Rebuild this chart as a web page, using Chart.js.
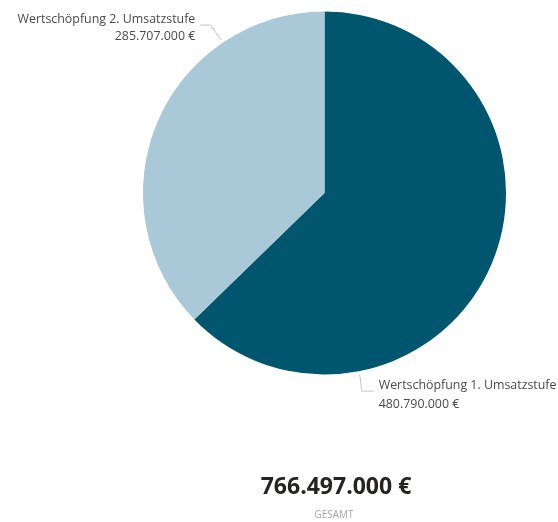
<!DOCTYPE html>
<html>
<head>
<meta charset="utf-8">
<script src="https://cdn.jsdelivr.net/npm/chart.js@4"></script>
<style>
  html, body { margin: 0; padding: 0; background: #fff; }
  #wrap { position: relative; width: 558px; height: 522px; }
  #total { position: absolute; left: 0; width: 672px; top: 469px; text-align: center; font-family: "Open Sans", sans-serif; font-weight: 700; font-size: 23px; color: #252423; }
  #totalLabel { position: absolute; left: 0; width: 668px; top: 507px; text-align: center; font-family: "Open Sans", sans-serif; font-size: 10px; color: #a6a6a6; }
</style>
</head>
<body>
<div id="wrap">
  <canvas id="chart" width="558" height="522"></canvas>
  <div id="total"></div>
  <div id="totalLabel">GESAMT</div>
</div>
<script>
const categories = ['Wertschöpfung 1. Umsatzstufe', 'Wertschöpfung 2. Umsatzstufe'];
const values = [480790000, 285707000];
const colors = ['#00566f', '#a9c8d8'];
const totalLabel = 'GESAMT';

function formatEuro(n) {
    return String(Math.round(n)).replace(/\B(?=(\d{3})+(?!\d))/g, '.') + ' €';
}

const total = values.reduce((a, b) => a + b, 0);
document.getElementById('total').textContent = formatEuro(total);
document.getElementById('totalLabel').textContent = totalLabel;

// Beschriftungen mit Führungslinien (Anker-Winkel in Grad, von oben im Uhrzeigersinn)
const labelLayout = [
    { angle: 169, side: 'right' },
    { angle: 326, side: 'left' }
];

const leaderLabels = {
    id: 'leaderLabels',
    afterDatasetsDraw(chart) {
        const ctx = chart.ctx;
        const meta = chart.getDatasetMeta(0);
        ctx.save();
        meta.data.forEach((arc, i) => {
            const lay = labelLayout[i];
            const a = (lay.angle - 90) * Math.PI / 180;
            const r = arc.outerRadius;
            const x0 = arc.x + Math.cos(a) * (r + 3);
            const y0 = arc.y + Math.sin(a) * (r + 3);
            let x1, y1, x2;
            if (lay.side === 'right') {
                x1 = x0 + 2; y1 = y0 + 17; x2 = x1 + 12;
            } else {
                x1 = x0 - 11; y1 = y0 - 15; x2 = x1 - 10;
            }
            ctx.strokeStyle = '#c4c4c4';
            ctx.lineWidth = 1;
            ctx.beginPath();
            ctx.moveTo(x0, y0);
            ctx.lineTo(x1, y1);
            ctx.lineTo(x2, y1);
            ctx.stroke();

            ctx.fillStyle = '#4a4a4a';
            ctx.font = '12.4px "Open Sans", sans-serif';
            ctx.textBaseline = 'middle';
            if (lay.side === 'right') {
                ctx.textAlign = 'left';
                ctx.fillText(categories[i], x2 + 5, y1 - 6);
                ctx.fillText(formatEuro(values[i]), x2 + 5, y1 + 13);
            } else {
                ctx.textAlign = 'right';
                ctx.fillText(categories[i], x2 - 5, y1 - 6);
                ctx.fillText(formatEuro(values[i]), x2 - 5, y1 + 11);
            }
        });
        ctx.restore();
    }
};

new Chart(document.getElementById('chart'), {
    type: 'pie',
    data: {
        labels: categories,
        datasets: [{
            data: values,
            backgroundColor: colors,
            borderWidth: 0
        }]
    },
    options: {
        responsive: false,
        animation: false,
        layout: { padding: { left: 143, right: 52, top: 11.5, bottom: 147.5 } },
        plugins: {
            legend: { display: false },
            tooltip: { enabled: false }
        }
    },
    plugins: [leaderLabels]
});
</script>
</body>
</html>
